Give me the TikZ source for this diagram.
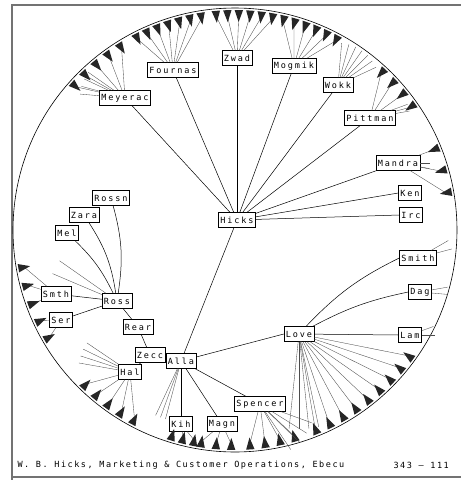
\documentclass[tikz,border=0pt]{standalone}
\usepackage{fontspec}
\newfontfamily\boxfont[LetterSpace=22]{DejaVu Sans Mono}
\newfontfamily\footfont[LetterSpace=18]{DejaVu Sans Mono}
\usetikzlibrary{calc}

% fan of leaves from a node out to the rim: node, first, second, last angle
\newcommand{\rimfan}[4]{%
  \foreach \a in {#2,#3,...,#4}{
    \draw[leaf] (#1) -- ($(ctr)+(\a:214)$);
    \fill[cluster] ($(ctr)+(\a-1.1:220)$) -- ($(ctr)+(\a+1.1:220)$) -- ($(ctr)+(\a:208)$) -- cycle;
  }}
% short leaves that stop before the rim: node, first, second, last angle, length
\newcommand{\shortfan}[5]{%
  \foreach \a in {#2,#3,...,#4}{\draw[leaf] (#1) -- ++(\a:#5);}}

\begin{document}
\begin{tikzpicture}[
  x=1pt, y=-1pt,
  person/.style ={draw,fill=white,inner sep=2pt,minimum height=15pt,
                  font=\boxfont\fontsize{8.5}{9}\selectfont},
  link/.style   ={line width=0.5pt},
  leaf/.style   ={line width=0.35pt,black!70},
  cluster/.style={black!85},
  rim/.style    ={line width=0.6pt},
  frame/.style  ={line width=1.4pt,black!55},
]
\useasboundingbox (0,0) rectangle (461,480);

%% ======================================================
%% Frame and disc
%% ======================================================
\draw[frame] (12,480) -- (12,5) -- (461,5);
\draw[frame] (12,477) -- (461,477);
\coordinate (ctr) at (235,230);
\draw[rim] (ctr) circle [radius=222pt];

%% ======================================================
%% Nodes
%% ======================================================
\node[person] (hicks)   at (237,220) {Hicks};
% --- upper ring ---
\node[person] (meyerac) at (125,98)  {Meyerac};
\node[person] (fournas) at (173,70)  {Fournas};
\node[person] (zwad)    at (237,58)  {Zwad};
\node[person] (mogmik)  at (294,66)  {Mogmik};
\node[person] (wokk)    at (338,85)  {Wokk};
\node[person] (pittman) at (370,118) {Pittman};
\node[person] (mandra)  at (398,163) {Mandra};
\node[person] (ken)     at (410,193) {Ken};
\node[person] (irc)     at (411,215) {Irc};
% --- right side ---
\node[person] (smithr)  at (418,258) {Smith};
\node[person] (dag)     at (420,292) {Dag};
\node[person] (lam)     at (410,335) {Lam};
\node[person] (love)    at (299,334) {Love};
% --- lower side ---
\node[person] (spencer) at (260,404) {Spencer};
\node[person] (magn)    at (222,424) {Magn};
\node[person] (kih)     at (181,424) {Kih};
\node[person] (alla)    at (181,361) {Alla};
\node[person] (zecc)    at (150,355) {Zecc};
\node[person] (rear)    at (138,327) {Rear};
\node[person] (hal)     at (130,372) {Hal};
% --- left side ---
\node[person] (ross)    at (117,301) {Ross};
\node[person] (smth)    at (56,294)  {Smth};
\node[person] (ser)     at (61,320)  {Ser};
\node[person] (rossn)   at (111,198) {Rossn};
\node[person] (zara)    at (84,215)  {Zara};
\node[person] (mel)     at (67,233)  {Mel};

%% ======================================================
%% Links
%% ======================================================
\draw[link] (hicks) -- (meyerac);
\draw[link] (hicks) -- (fournas);
\draw[link] (hicks) -- (zwad);
\draw[link] (hicks) -- (mogmik);
\draw[link] (hicks) -- (wokk);
\draw[link] (hicks) -- (pittman);
\draw[link] (hicks) -- (mandra);
\draw[link] (hicks) -- (ken.west);
\draw[link] (hicks) -- (irc.west);
\draw[link] (hicks) -- (alla);

\draw[link] (zecc) -- (rear);
\draw[link] (rear) -- (ross);
\draw[link] (zecc) -- (hal);
\draw[link] (alla) -- (kih);
\draw[link] (alla) -- (magn);
\draw[link] (alla) -- (spencer);
\draw[link] (alla) -- (love.west);

\draw[link] (love) to[bend left=10] (smithr.west);
\draw[link] (love) to[bend left=8] (dag.west);
\draw[link] (love) -- (lam.west);

\draw[link] (ross) to[bend right=12] (rossn);
\draw[link] (ross) to[bend right=12] (zara);
\draw[link] (ross) to[bend right=10] (mel);
\draw[link] (ross) -- (smth);
\draw[link] (ross) -- (ser);

%% ======================================================
%% Leaf fans
%% ======================================================
\rimfan{meyerac}{222}{226}{238}
\shortfan{meyerac}{185}{195}{215}{45}
\rimfan{fournas}{243}{246}{261}
\rimfan{zwad}{265}{268}{280}
\rimfan{mogmik}{283}{286}{298}
\shortfan{wokk}{275}{285}{335}{42}
\rimfan{pittman}{313}{317}{325}
\shortfan{pittman}{340}{350}{10}{40}
\rimfan{mandra}{338}{344}{350}
\shortfan{mandra}{0}{10}{10}{32}
\shortfan{smithr}{330}{345}{30}{35}
\shortfan{dag}{350}{5}{35}{28}
\shortfan{lam}{340}{360}{20}{25}
\rimfan{love}{36}{40}{68}
\shortfan{love}{78}{84}{96}{95}
\rimfan{spencer}{74}{78}{86}
\shortfan{spencer}{20}{32}{56}{55}
\rimfan{magn}{91}{95}{99}
\rimfan{kih}{101}{104}{107}
\shortfan{alla}{105}{110}{115}{60}
\rimfan{hal}{118}{122}{134}
\shortfan{hal}{190}{198}{214}{52}
\shortfan{ross}{203}{215}{215}{70}
\rimfan{smth}{160}{165}{170}
\rimfan{ser}{150}{155}{155}

%% ======================================================
%% Footer line
%% ======================================================
\node[anchor=west,font=\footfont\fontsize{8.5}{9}\selectfont] (credit) at (14,465)
  {W. B. Hicks, Marketing \& Customer Operations, Ebecu};
\node[anchor=west,font=\footfont\fontsize{8.5}{9}\selectfont] (pages) at (390,465)
  {343 — 111};

\end{tikzpicture}
\end{document}
